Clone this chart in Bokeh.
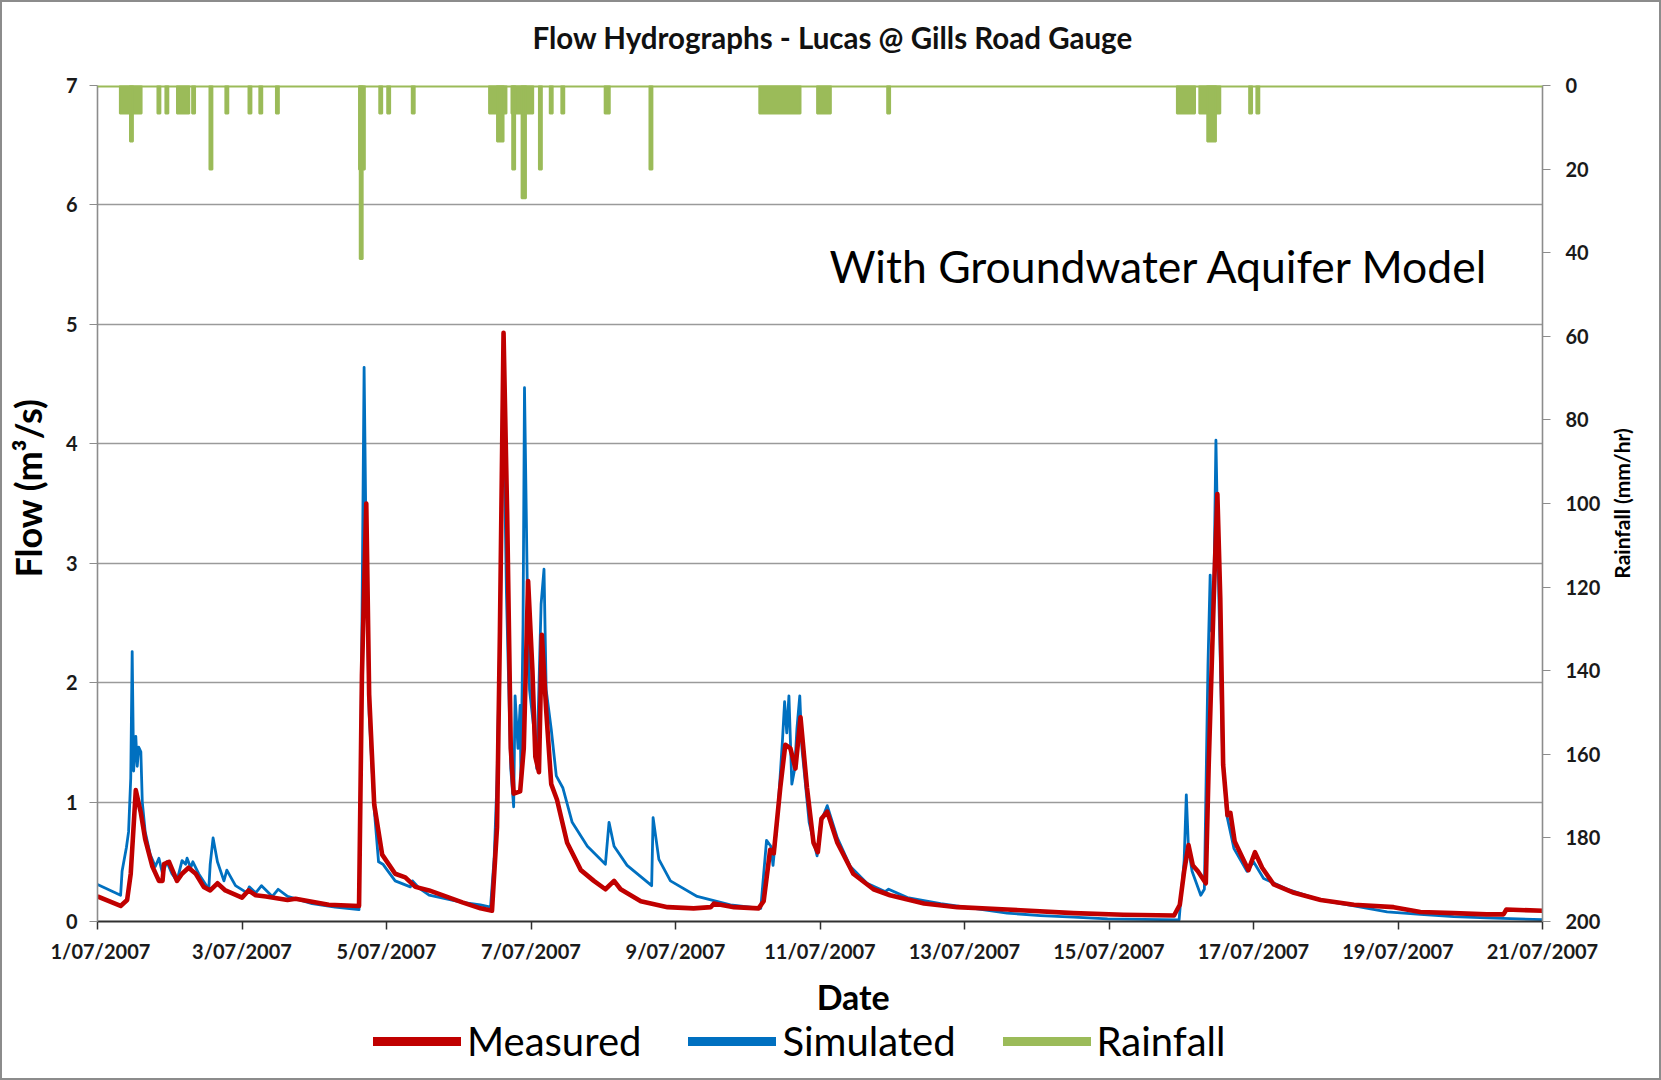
import math
from bokeh.plotting import figure
from bokeh.layouts import column, row
from bokeh.models import (Range1d, LinearAxis, FixedTicker, Span, Label, Legend,
                          LegendItem, ColumnDataSource, Title, InlineStyleSheet)
from bokeh.embed import file_html
from bokeh.resources import INLINE

FONT = "Lato"

# ---------------- data ----------------
# x in days after 1/07/2007 00:00
tick_days = [0, 2, 4, 6, 8, 10, 12, 14, 16, 18, 20]
tick_labels = ["1/07/2007", "3/07/2007", "5/07/2007", "7/07/2007", "9/07/2007",
               "11/07/2007", "13/07/2007", "15/07/2007", "17/07/2007",
               "19/07/2007", "21/07/2007"]

sim_day = [0.00, 0.32, 0.34, 0.40, 0.43, 0.46, 0.48, 0.50, 0.53, 0.55, 0.57, 0.60,
           0.62, 0.66, 0.73, 0.80, 0.85, 0.90, 0.96, 1.03, 1.10, 1.17, 1.22, 1.24,
           1.29, 1.32, 1.40, 1.54, 1.56, 1.60, 1.66, 1.75, 1.79, 1.91, 2.07, 2.10,
           2.19, 2.27, 2.42, 2.50, 2.63, 2.97, 3.29, 3.62, 3.65, 3.69, 3.72, 3.76,
           3.83, 3.89, 3.95, 4.01, 4.12, 4.33, 4.36, 4.45, 4.59, 5.05, 5.30, 5.44,
           5.49, 5.53, 5.58, 5.61, 5.66, 5.72, 5.76, 5.78, 5.82, 5.85, 5.86, 5.89,
           5.91, 5.95, 5.98, 6.04, 6.08, 6.14, 6.18, 6.21, 6.28, 6.35, 6.44, 6.57,
           6.78, 7.03, 7.08, 7.15, 7.33, 7.67, 7.69, 7.77, 7.93, 8.30, 8.76, 9.18,
           9.26, 9.32, 9.35, 9.41, 9.48, 9.51, 9.54, 9.57, 9.61, 9.65, 9.68, 9.72,
           9.75, 9.85, 9.96, 10.01, 10.10, 10.24, 10.42, 10.65, 10.90, 10.95, 11.21,
           11.67, 12.13, 12.59, 13.05, 13.51, 13.98, 14.97, 15.04, 15.07, 15.10,
           15.15, 15.27, 15.32, 15.37, 15.40, 15.42, 15.45, 15.48, 15.52, 15.57,
           15.63, 15.73, 15.91, 16.00, 16.14, 16.47, 16.93, 17.39, 17.85, 18.31,
           18.77, 19.23, 20.00]
sim_flow = [0.31, 0.22, 0.42, 0.62, 0.75, 1.20, 2.26, 1.26, 1.55, 1.30, 1.46, 1.42,
            1.00, 0.75, 0.56, 0.46, 0.53, 0.40, 0.50, 0.40, 0.34, 0.51, 0.48, 0.53,
            0.45, 0.50, 0.40, 0.27, 0.48, 0.70, 0.50, 0.34, 0.43, 0.30, 0.24, 0.29,
            0.24, 0.30, 0.21, 0.27, 0.21, 0.15, 0.12, 0.10, 1.74, 4.64, 3.02, 1.74,
            0.94, 0.50, 0.48, 0.43, 0.34, 0.29, 0.34, 0.28, 0.22, 0.16, 0.14, 0.12,
            0.53, 1.19, 2.75, 4.70, 2.75, 1.28, 0.96, 1.89, 1.45, 1.81, 1.22, 2.49,
            4.47, 2.75, 1.94, 1.61, 1.28, 2.66, 2.95, 1.94, 1.61, 1.22, 1.12, 0.83,
            0.63, 0.48, 0.83, 0.63, 0.47, 0.30, 0.87, 0.52, 0.34, 0.21, 0.14, 0.11,
            0.68, 0.63, 0.47, 0.86, 1.51, 1.84, 1.58, 1.89, 1.15, 1.28, 1.61, 1.89,
            1.45, 0.83, 0.55, 0.83, 0.97, 0.70, 0.46, 0.32, 0.25, 0.27, 0.20,
            0.15, 0.11, 0.07, 0.05, 0.036, 0.022, 0.014, 0.51, 1.06, 0.61,
            0.42, 0.22, 0.27, 2.15, 2.90, 2.43, 2.71, 4.03, 2.71, 1.45,
            0.89, 0.61, 0.42, 0.50, 0.36, 0.27, 0.18, 0.13, 0.08, 0.06,
            0.04, 0.03, 0.015]

meas_day = [0.00, 0.32, 0.41, 0.46, 0.53, 0.60, 0.66, 0.76, 0.85, 0.90, 0.92, 0.99,
            1.10, 1.17, 1.26, 1.36, 1.47, 1.56, 1.66, 1.77, 2.00, 2.09, 2.19, 2.33,
            2.63, 2.74, 3.20, 3.62, 3.66, 3.72, 3.76, 3.83, 3.94, 4.12, 4.26, 4.40,
            4.59, 5.05, 5.30, 5.46, 5.53, 5.57, 5.62, 5.67, 5.72, 5.76, 5.85, 5.90,
            5.96, 6.02, 6.06, 6.11, 6.15, 6.21, 6.28, 6.36, 6.50, 6.69, 6.87, 7.03,
            7.15, 7.24, 7.52, 7.89, 8.25, 8.49, 8.53, 8.81, 9.15, 9.22, 9.31, 9.36,
            9.45, 9.52, 9.59, 9.66, 9.73, 9.82, 9.91, 9.97, 10.02, 10.10, 10.24,
            10.46, 10.74, 10.97, 11.44, 11.90, 12.59, 13.51, 14.20, 14.90, 14.98,
            15.04, 15.10, 15.16, 15.23, 15.34, 15.38, 15.45, 15.50, 15.54, 15.58,
            15.64, 15.68, 15.74, 15.93, 16.02, 16.12, 16.28, 16.56, 16.93, 17.39,
            17.94, 18.31, 18.77, 19.23, 19.46, 19.50, 20.00]
meas_flow = [0.21, 0.13, 0.18, 0.40, 1.10, 0.91, 0.69, 0.46, 0.34, 0.34, 0.48, 0.50,
             0.34, 0.40, 0.45, 0.40, 0.29, 0.26, 0.32, 0.26, 0.20, 0.26, 0.22, 0.21,
             0.18, 0.19, 0.14, 0.13, 2.06, 3.50, 1.90, 0.98, 0.56, 0.40, 0.37, 0.29,
             0.26, 0.16, 0.11, 0.09, 0.79, 2.43, 4.93, 3.41, 1.45, 1.07, 1.09, 1.45,
             2.85, 2.10, 1.38, 1.25, 2.40, 1.77, 1.15, 1.02, 0.66, 0.43, 0.34, 0.27,
             0.34, 0.27, 0.17, 0.12, 0.11, 0.12, 0.15, 0.12, 0.11, 0.17, 0.60, 0.57,
             1.12, 1.48, 1.45, 1.28, 1.71, 1.12, 0.66, 0.58, 0.86, 0.92, 0.66,
             0.40, 0.27, 0.22, 0.15, 0.12, 0.10, 0.07, 0.056, 0.05, 0.14,
             0.42, 0.64, 0.47, 0.42, 0.32, 1.31, 2.71, 3.58, 2.71, 1.31,
             0.89, 0.91, 0.67, 0.43, 0.58, 0.45, 0.31, 0.24, 0.18, 0.14,
             0.12, 0.08, 0.07, 0.06, 0.06, 0.10, 0.09]

# rainfall bursts: start day, end day, intensity (mm/hr)
rain_start = [0.31, 0.45, 0.83, 0.94, 1.10, 1.31, 1.55, 1.77, 2.09, 2.24, 2.47,
              3.62, 3.63, 3.90, 4.01, 4.35, 5.42, 5.53, 5.73, 5.74, 5.87, 6.11,
              6.26, 6.42, 7.02, 7.64, 9.16, 9.96, 10.93, 14.94, 15.25, 15.36,
              15.94, 16.04]
rain_end = [0.61, 0.49, 0.87, 0.98, 1.27, 1.35, 1.59, 1.81, 2.13, 2.28, 2.51,
            3.70, 3.67, 3.94, 4.05, 4.39, 5.66, 5.62, 6.03, 5.78, 5.93, 6.15,
            6.30, 6.46, 7.09, 7.68, 9.73, 10.15, 10.97, 15.19, 15.54, 15.48,
            15.98, 16.08]
rain_mm = [6.7, 13.4, 6.7, 6.7, 6.7, 6.7, 20.1, 6.7, 6.7, 6.7, 6.7,
           20.1, 41.5, 6.7, 6.7, 6.7, 6.7, 13.4, 6.7, 20.1, 27.0, 20.1,
           6.7, 6.7, 6.7, 20.1, 6.7, 6.7, 6.7, 6.7, 6.7, 13.4,
           6.7, 6.7]

flow_ticks = [0, 1, 2, 3, 4, 5, 6, 7]
rain_ticks = [0, 20, 40, 60, 80, 100, 120, 140, 160, 180, 200]
series_names = ["Measured", "Simulated", "Rainfall"]

RED = "#C00000"
BLUE = "#0070C0"
GREEN = "#9BBB59"

FLOW_RANGE = Range1d(0, 7)


def strip(width, height, top, bottom, left=0, right=0, x_range=None, y_range=None):
    f = figure(width=width, height=height, output_backend="svg", toolbar_location=None,
               x_range=x_range or Range1d(0, 1), y_range=y_range or Range1d(0, 1),
               x_axis_location=None, y_axis_location=None,
               min_border_left=left, min_border_right=right, min_border_top=top,
               min_border_bottom=bottom)
    f.grid.visible = False
    f.outline_line_color = None
    f.border_fill_color = "white"
    f.background_fill_color = "white"
    return f


# ---------------- main figure ----------------
p = figure(width=1555, height=969, output_backend="svg", toolbar_location=None,
           x_range=Range1d(0, 20), y_range=FLOW_RANGE,
           title="Flow Hydrographs - Lucas @ Gills Road Gauge",
           min_border_left=47, min_border_right=63, min_border_top=85,
           min_border_bottom=48)
p.extra_y_ranges = {"rain": Range1d(200, 0)}
p.outline_line_color = None
p.background_fill_color = "white"
p.border_fill_color = "white"

p.title.align = "left"
p.title.offset = 435
p.title.standoff = 34
p.title.text_font = FONT
p.title.text_font_size = "29.5px"
p.title.text_font_style = "bold"
p.title.text_color = "#111111"
p.add_layout(Title(text=" ", text_font_size="2px", standoff=10), "above")

# grid
p.xgrid.visible = False
p.ygrid.ticker = FixedTicker(ticks=flow_ticks)
p.ygrid.grid_line_color = "#9a9a9a"
p.ygrid.grid_line_width = 1.6

# x axis
xa = p.xaxis[0]
xa.ticker = FixedTicker(ticks=tick_days)
xa.major_label_overrides = {t: l for t, l in zip(tick_days, tick_labels)}
xa.major_label_text_font = FONT
xa.major_label_text_font_size = "20px"
xa.major_label_text_font_style = "bold"
xa.major_label_text_color = "#1a1a1a"
xa.major_label_standoff = 9
xa.axis_line_color = "#303030"
xa.axis_line_width = 2
xa.major_tick_line_color = "#303030"
xa.major_tick_line_width = 1.5
xa.major_tick_out = 8
xa.major_tick_in = 0
xa.minor_tick_line_color = None

# left axis
ya = p.yaxis[0]
ya.ticker = FixedTicker(ticks=flow_ticks)
ya.major_label_text_font = FONT
ya.major_label_text_font_size = "20px"
ya.major_label_text_font_style = "bold"
ya.major_label_text_color = "#1a1a1a"
ya.major_label_standoff = 12
ya.axis_line_color = "#8c8c8c"
ya.axis_line_width = 1.6
ya.major_tick_line_color = "#8c8c8c"
ya.major_tick_out = 8
ya.major_tick_in = 0
ya.minor_tick_line_color = None

# right axis (rainfall, reversed)
ra = LinearAxis(y_range_name="rain", ticker=FixedTicker(ticks=rain_ticks))
ra.major_label_text_font = FONT
ra.major_label_text_font_size = "20px"
ra.major_label_text_font_style = "bold"
ra.major_label_text_color = "#1a1a1a"
ra.major_label_standoff = 15
ra.axis_line_color = "#8c8c8c"
ra.axis_line_width = 1.6
ra.major_tick_line_color = "#8c8c8c"
ra.major_tick_out = 8
ra.major_tick_in = 0
ra.minor_tick_line_color = None
p.add_layout(ra, "right")

# rainfall
rain_src = ColumnDataSource(dict(left=rain_start, right=rain_end, top=[0] * len(rain_mm),
                                 bottom=rain_mm))
p.quad(left="left", right="right", top="top", bottom="bottom", source=rain_src,
       y_range_name="rain", fill_color=GREEN, line_color=GREEN, line_width=2)
p.add_layout(Span(location=0, dimension="width", y_range_name="rain",
                  line_color=GREEN, line_width=4))

# flows
p.line(sim_day, sim_flow, line_color=BLUE, line_width=2.8, line_join="round")
p.line(meas_day, meas_flow, line_color=RED, line_width=4.6, line_join="round")

# annotation text
p.add_layout(Label(x=10.13, y=5.49, text="With Groundwater Aquifer Model",
                   text_font=FONT, text_font_size="44.5px", text_color="black",
                   text_baseline="middle", text_align="left"))

# ---------------- side strips with the rotated axis titles ----------------
lsf = strip(50, 969, top=85, bottom=48, y_range=FLOW_RANGE)
lsf.add_layout(Label(x=27, y=3.63, x_units="screen", text="Flow (m³/s)",
                     angle=math.pi / 2, text_font=FONT, text_font_size="36px",
                     text_font_style="bold", text_color="black",
                     text_align="center", text_baseline="middle"))

rsf = strip(56, 969, top=85, bottom=48, y_range=FLOW_RANGE)
rsf.add_layout(Label(x=16, y=3.5, x_units="screen", text="Rainfall (mm/hr)",
                     angle=math.pi / 2, text_font=FONT, text_font_size="21px",
                     text_font_style="bold", text_color="black",
                     text_align="center", text_baseline="middle"))

# ---------------- bottom strip: x-axis title and legend ----------------
# legend swatches use the real series, drawn outside this strip's view
lf = strip(1661, 111, top=0, bottom=0, left=97, right=119,
           x_range=Range1d(-10, -9))
lf.add_layout(Label(x=755.7, y=84, x_units="screen", y_units="screen", text="Date",
                    text_font=FONT, text_font_size="34px", text_font_style="bold",
                    text_color="black", text_align="center", text_baseline="middle"))
lm = lf.line(meas_day, meas_flow, line_color=RED, line_width=9, line_cap="round")
ls = lf.line(sim_day, sim_flow, line_color=BLUE, line_width=9, line_cap="round")
lr = lf.line(rain_start, rain_mm, line_color=GREEN, line_width=9, line_cap="round")
legend = Legend(items=[LegendItem(label=series_names[0], renderers=[lm]),
                       LegendItem(label=series_names[1], renderers=[ls]),
                       LegendItem(label=series_names[2], renderers=[lr])],
                orientation="horizontal", location=(276, 15),
                label_text_font=FONT, label_text_font_size="40px",
                label_text_color="black",
                glyph_width=88, glyph_height=40, label_height=40,
                label_standoff=6, spacing=47, padding=0, margin=0,
                border_line_color=None, background_fill_alpha=0)
lf.add_layout(legend)

frame_css = InlineStyleSheet(css=(
    ":host { position: relative; }"
    ":host::after { content: ''; position: absolute; left: 0; top: 0; right: 0; bottom: 0;"
    " border: 2px solid #8c8c8c; pointer-events: none; z-index: 100; }"))
layout = column(row(lsf, p, rsf, spacing=0), lf, spacing=0, stylesheets=[frame_css])
open("out.html", "w").write(file_html(layout, INLINE))
